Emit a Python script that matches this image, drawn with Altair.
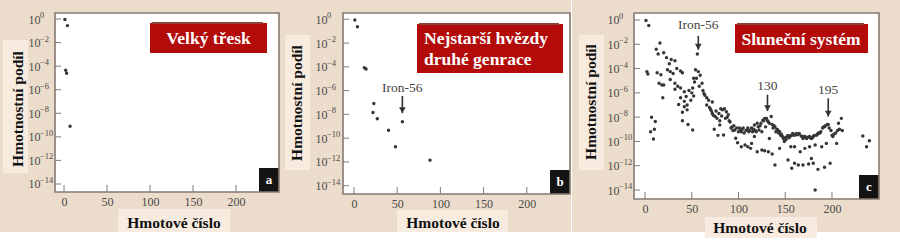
import altair as alt
import pandas as pd

# ---------------- data ----------------
x_ticks = [0, 50, 100, 150, 200]
y_exps = [0, -2, -4, -6, -8, -10, -12, -14]
y_base = "10"
y_sups = ["0", "−2", "−4", "−6", "−8", "−10", "−12", "−14"]

y_title = "Hmotnostní podíl"
x_title = "Hmotové číslo"
panel_titles = [["Velký třesk"], ["Nejstarší hvězdy", "druhé genrace"], ["Sluneční systém"]]
panel_letters = ["a", "b", "c"]

# (a) Big Bang: mass number, log10 mass fraction
a_mass = [1, 2, 3, 4, 7]
a_exp = [-0.05, -4.35, -4.6, -0.56, -9.1]

# (b) oldest second-generation stars
b_mass = [1, 4, 12, 14, 22, 23, 27, 40, 48, 56, 88]
b_exp = [-0.06, -0.62, -4.07, -4.19, -7.84, -7.08, -8.37, -9.33, -10.73, -8.62, -11.85]

# (c) Solar system
c_pts = [
    (1, -0.05), (4, -0.45), (2, -4.25), (3, -4.45),
    (6, -9.2), (7, -8.0), (9, -9.8), (10, -9.0), (11, -8.35),
    (12, -2.4), (13, -4.35), (14, -2.8), (15, -5.2), (16, -1.9), (17, -4.5), (18, -5.35),
    (19, -6.4), (20, -2.7), (20, -5.35),
    (23, -3.1), (24, -4.1), (26, -3.6), (27, -4.25), (27, -4.9), (28, -3.25), (30, -4.4),
    (32, -3.35), (32, -5.2), (32, -5.7), (34, -4.0), (35, -5.45), (36, -6.95), (38, -4.2),
    (38, -5.6), (38, -6.4), (40, -4.35), (40, -7.6), (40, -8.3), (42, -5.9), (42, -6.7),
    (42, -7.15), (44, -6.3), (45, -7.0), (45, -7.4), (46, -8.6), (47, -5.8), (49, -6.6),
    (50, -6.0), (51, -5.6), (51, -9.05), (52, -6.25), (52, -4.8), (53, -5.1), (54, -4.1),
    (55, -4.8), (56, -2.8), (57, -4.25), (58, -5.45), (59, -4.55), (61, -5.2), (62, -5.8),
    (63, -6.05), (64, -6.2), (66, -6.4), (66, -7.0), (68, -6.6), (69, -7.2), (70, -7.35),
    (71, -7.5), (72, -6.75), (72, -7.7), (73, -7.85), (74, -9.0), (75, -7.95), (76, -7.5),
    (77, -8.1), (78, -9.5), (79, -7.7), (80, -8.65), (80, -8.3), (81, -7.3), (82, -7.9),
    (83, -7.4), (84, -9.47), (85, -7.3), (86, -8.1), (87, -7.55), (88, -8.0), (89, -7.8),
    (90, -8.3), (91, -8.4), (92, -8.9), (93, -8.8), (94, -9.1), (95, -8.7), (96, -9.05),
    (97, -9.74), (98, -8.9), (99, -10.1), (100, -9.2), (101, -8.9), (102, -9.05), (103, -9.2),
    (103, -10.43), (104, -9.0), (105, -8.9), (106, -9.3), (107, -10.3), (108, -9.1),
    (109, -9.05), (110, -8.9), (110, -10.43), (111, -9.2), (112, -9.1), (113, -10.57),
    (114, -8.9), (114, -10.16), (115, -9.2), (116, -9.0), (117, -8.65), (117, -9.6),
    (118, -9.1), (119, -9.2), (120, -8.5), (120, -10.85), (121, -8.8), (122, -9.05),
    (123, -8.7), (124, -8.5), (125, -9.2), (125, -10.7), (126, -8.25), (127, -8.3),
    (128, -8.1), (128, -10.76), (129, -8.8), (130, -8.1), (131, -8.3), (132, -8.4),
    (132, -10.85), (133, -8.5), (133, -9.75), (135, -7.95), (136, -8.6), (136, -11.04),
    (137, -8.9), (138, -8.7), (139, -8.8), (139, -11.94), (140, -9.2), (141, -9.0),
    (142, -9.05), (143, -9.3), (144, -9.2), (144, -10.57), (145, -9.5), (146, -9.4),
    (147, -9.6), (148, -9.75), (149, -10.0), (150, -9.7), (151, -9.85), (152, -9.6),
    (153, -9.5), (153, -11.53), (154, -9.7), (155, -9.6), (156, -9.5), (156, -10.43),
    (157, -9.5), (157, -12.2), (158, -9.35), (159, -9.45), (160, -9.5), (160, -10.43),
    (160, -11.8), (162, -9.35), (163, -9.45), (164, -9.4), (164, -11.94), (165, -9.35),
    (166, -10.85), (167, -9.55), (168, -9.6), (169, -9.75), (169, -11.94), (170, -9.6),
    (171, -9.6), (171, -10.57), (172, -9.7), (173, -9.75), (174, -9.65), (175, -11.86),
    (176, -9.6), (176, -10.43), (177, -9.7), (178, -9.75), (178, -11.4), (179, -9.7),
    (180, -9.6), (180, -11.8), (181, -9.5), (182, -10.3), (182, -14.0), (183, -9.5),
    (184, -9.45), (185, -9.35), (185, -12.3), (186, -9.3), (187, -9.3), (188, -9.2),
    (189, -10.43), (190, -8.9), (191, -8.8), (192, -8.8), (192, -12.13), (193, -8.7),
    (194, -10.16), (195, -8.6), (196, -8.6), (197, -8.9), (198, -11.8), (199, -9.1),
    (200, -9.5), (201, -9.6), (202, -9.4), (204, -9.3), (205, -10.16), (206, -9.1),
    (207, -8.5), (208, -9.0), (210, -8.1), (211, -9.1), (233, -9.55), (237, -10.43),
    (240, -9.94),
]
c_mass = [p[0] for p in c_pts]
c_exp = [p[1] for p in c_pts]

# annotations: text, mass number, text level, arrow top, arrow tip (log10)
b_notes = [("Iron-56", 56, -5.8, -6.45, -7.9)]
c_notes = [("Iron-56", 57, -0.4, -1.3, -2.45),
           ("130", 131, -5.45, -6.15, -7.5),
           ("195", 196, -5.78, -6.45, -7.95)]

# ---------------- style ----------------
SERIF = "Liberation Serif"
BG = "#ecdccb"
LIGHT = "#f7ebdf"
RED = "#b30a0a"
REDTOP = "#8a4434"
BORDER = "#857a73"
DOT = "#363636"
LABEL = "#4a4a4a"

one = pd.DataFrame({"k": [0]})


def rect(x1, x2, y1, y2, **kw):
    return alt.Chart(one).mark_rect(**kw).encode(
        x=alt.value(x1), x2=alt.value(x2), y=alt.value(y1), y2=alt.value(y2))


def label(text, x, y, **kw):
    return alt.Chart(one).mark_text(text=text, font=SERIF, **kw).encode(
        x=alt.value(x), y=alt.value(y))


def panel(mass, exp, notes, idx, w, h, xdom, ydom, g):
    xs = alt.Scale(domain=xdom, nice=False, zero=False)
    ys = alt.Scale(type="log", domain=[10 ** ydom[0], 10 ** ydom[1]], nice=False)
    xaxis = alt.Axis(values=x_ticks, ticks=False, domain=False, grid=False, title=None,
                     labelFont=SERIF, labelFontSize=12, labelColor=LABEL, labelPadding=4,
                     labelFlush=False, labelOverlap=False, zindex=1)
    yaxis = alt.Axis(values=[10 ** e for e in y_exps], labelExpr=f"'{y_base}'", ticks=False,
                     domain=False, grid=False, title=None, labelFont=SERIF, labelFontSize=12,
                     labelColor=LABEL, labelPadding=g["lp"], labelAlign="left",
                     labelOverlap=False, zindex=1)

    def X(f):
        return alt.X(f, scale=xs, axis=xaxis)

    def Y(f):
        return alt.Y(f, scale=ys, axis=yaxis)

    pts = pd.DataFrame({"mass": mass, "frac": [10 ** e for e in exp]})
    layers = [
        rect(*g["bg"], color=BG),
        rect(0, w, 0, h, color="white"),
        rect(*g["ybox"], color=LIGHT),
        rect(*g["xbox"], color=LIGHT),
        label(y_title, g["yt"][0], g["yt"][1], fontSize=15.5, fontWeight="bold", color="#111",
              angle=270, align="center", baseline="middle"),
        label(x_title, g["xt"][0], g["xt"][1], fontSize=15.5, fontWeight="bold", color="#111",
              align="center", baseline="middle"),
    ]
    layers.append(alt.Chart(pts).mark_circle(color=DOT, size=12, opacity=1).encode(
        x=X("mass:Q"), y=Y("frac:Q")))
    ytk = pd.DataFrame({"frac": [10 ** e for e in y_exps], "sup": y_sups})
    xtk = pd.DataFrame({"mass": x_ticks})
    layers.append(alt.Chart(ytk).mark_rule(color=BORDER, strokeWidth=1).encode(
        y=Y("frac:Q"), x=alt.value(0), x2=alt.value(6)))
    layers.append(alt.Chart(ytk).mark_text(font=SERIF, fontSize=8.5, color=LABEL, align="left",
                                           baseline="middle", dy=-4).encode(
        y=Y("frac:Q"), x=alt.value(-g["lp"] + 12), text="sup:N"))
    layers.append(alt.Chart(xtk).mark_rule(color=BORDER, strokeWidth=1).encode(
        x=X("mass:Q"), y=alt.value(h), y2=alt.value(h - 7)))
    if notes:
        nd = pd.DataFrame({
            "txt": [n[0] for n in notes],
            "mass": [n[1] for n in notes],
            "ty": [10 ** n[2] for n in notes],
            "top": [10 ** n[3] for n in notes],
            "tip": [10 ** n[4] for n in notes],
        })
        nb = alt.Chart(nd)
        layers.append(nb.mark_text(font=SERIF, fontSize=13.5, color="#444", baseline="middle").encode(
            x=X("mass:Q"), y=Y("ty:Q"), text="txt:N"))
        layers.append(nb.mark_rule(color="#333", strokeWidth=1.6).encode(
            x=X("mass:Q"), y=Y("top:Q"), y2=alt.Y2("tip:Q")))
        layers.append(nb.mark_point(shape="triangle-down", filled=True, color="#333", size=45,
                                    opacity=1, yOffset=-3).encode(
            x=X("mass:Q"), y=Y("tip:Q")))
    rx1, rx2, ry1, ry2 = g["red"]
    layers.append(rect(rx1, rx2, ry1, ry2, color=RED))
    layers.append(rect(rx1 + 2, rx2 - 4, ry1 - 1, ry1 + 1, color=REDTOP))
    for i, line in enumerate(panel_titles[idx]):
        layers.append(label(line, g["tt"][0], g["tt"][1] + i * 21, fontSize=17.5, fontWeight="bold",
                            color="white", align=g["talign"], baseline="middle"))
    layers.append(rect(w - 20, w, h - 24, h, color="#141414"))
    layers.append(label(panel_letters[idx], w - 10, h - 12, fontSize=13, fontWeight="bold",
                        color="white", align="center", baseline="middle"))
    layers.append(rect(0, w, 0, h, fill="transparent", stroke=BORDER, strokeWidth=1.6))
    return alt.layer(*layers).properties(width=w, height=h)


pa = panel(a_mass, a_exp, [], 0, 224, 179, [-10.5, 250], [-14.68, 0.51], {
    "bg": (-55, 225, -13, 219), "ybox": (-52, -27, 27, 160), "xbox": (63, 175, 196, 219),
    "yt": (-37, 96), "xt": (119, 210), "red": (95, 212, 10, 40), "tt": (153.5, 26),
    "talign": "center", "lp": 27})
pb = panel(b_mass, b_exp, b_notes, 1, 227, 181, [-12.7, 250], [-14.7, 0.53], {
    "bg": (-63, 228, -13, 219), "ybox": (-58, -33, 22, 157), "xbox": (54, 165, 197, 219),
    "yt": (-46, 90), "xt": (110, 210), "red": (74, 220, 11, 60), "tt": (81, 26),
    "talign": "left", "lp": 28})
pc = panel(c_mass, c_exp, c_notes, 2, 245, 186, [-11.8, 250.3], [-14.74, 0.576], {
    "bg": (-62, 266, -13, 219), "ybox": (-55, -30, 22, 157), "xbox": (71, 183, 204, 225),
    "yt": (-43, 89), "xt": (126, 215), "red": (101, 234, 11, 40), "tt": (167, 27),
    "talign": "center", "lp": 27})

chart = alt.hconcat(pa, pb, pc, spacing=64, bounds="flush").properties(
    padding=0
).configure_view(stroke=None, strokeWidth=0)

chart.save("out.html", embed_options={"renderer": "svg", "actions": False})
